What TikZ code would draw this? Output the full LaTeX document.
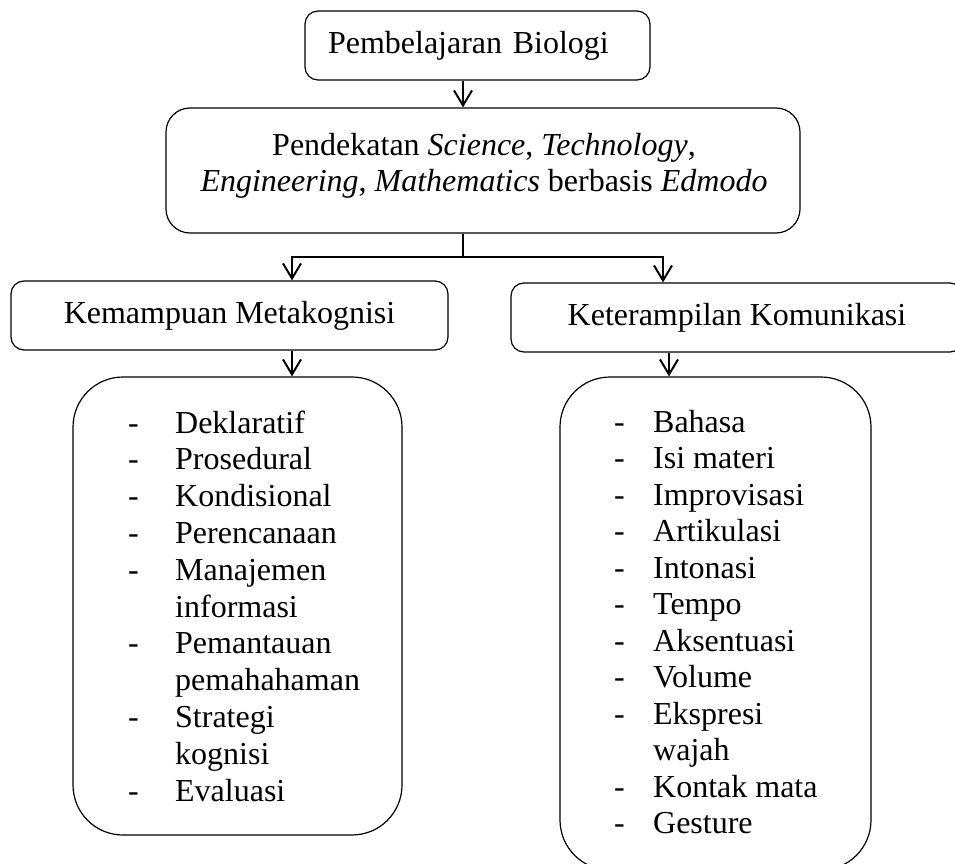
\documentclass[tikz,border=0pt]{standalone}
\usepackage{fontspec}
\setmainfont{Liberation Serif}
\usetikzlibrary{arrows.meta}
\begin{document}
\begin{tikzpicture}[x=1pt,y=-1pt,
  box/.style={draw=black, line width=1.2pt, rectangle, inner sep=0pt, align=center},
  conn/.style={draw=black, line width=1.8pt},
  arr/.style={conn, -{Straight Barb[length=15pt,width=18pt,line width=2pt]}},
  every node/.style={font=\fontsize{32}{36}\selectfont}]
\useasboundingbox (0,0) rectangle (955,864);
\clip (0,0) rectangle (955,864);

% boxes
\node[box, rounded corners=13pt, minimum width=345pt, minimum height=69pt,
      text width=299pt, inner xsep=23pt, align=left] (b1) at (477.5,45.5) {Pembelajaran Biologi};
\node[box, rounded corners=24pt, minimum width=634pt, minimum height=125pt] (b2) at (483,170.5) {};
\node[align=center, inner sep=0pt] (b2t) at (484,166)
  {Pendekatan \textit{Science}, \textit{Technology},\\
   \textit{Engineering}, \textit{Mathematics} berbasis \textit{Edmodo}};
\node[box, rounded corners=13pt, minimum width=437pt, minimum height=69pt] (k1) at (229.5,315.5) {Kemampuan Metakognisi};
\node[box, rounded corners=13pt, minimum width=452pt, minimum height=69pt] (k2) at (737,317.5) {Keterampilan Komunikasi};
\node[box, rounded corners=50pt, minimum width=329pt, minimum height=458pt] (l1) at (237.5,606) {};
\node[box, rounded corners=50pt, minimum width=311pt, minimum height=493pt] (l2) at (715.5,623.5) {};

% list texts
\node[anchor=base west, inner sep=0pt, font=\fontsize{32}{36.8}\selectfont] (l1t) at (128,433)
  {\begin{tabular}[t]{@{}l@{}}
   \makebox[47pt][l]{-}Deklaratif\\
   \makebox[47pt][l]{-}Prosedural\\
   \makebox[47pt][l]{-}Kondisional\\
   \makebox[47pt][l]{-}Perencanaan\\
   \makebox[47pt][l]{-}Manajemen\\
   \hspace*{47pt}informasi\\
   \makebox[47pt][l]{-}Pemantauan\\
   \hspace*{47pt}pemahahaman\\
   \makebox[47pt][l]{-}Strategi\\
   \hspace*{47pt}kognisi\\
   \makebox[47pt][l]{-}Evaluasi
   \end{tabular}};
\node[anchor=base west, inner sep=0pt, font=\fontsize{32}{36.5}\selectfont] (l2t) at (614,432)
  {\begin{tabular}[t]{@{}l@{}}
   \makebox[39pt][l]{-}Bahasa\\
   \makebox[39pt][l]{-}Isi materi\\
   \makebox[39pt][l]{-}Improvisasi\\
   \makebox[39pt][l]{-}Artikulasi\\
   \makebox[39pt][l]{-}Intonasi\\
   \makebox[39pt][l]{-}Tempo\\
   \makebox[39pt][l]{-}Aksentuasi\\
   \makebox[39pt][l]{-}Volume\\
   \makebox[39pt][l]{-}Ekspresi\\
   \hspace*{39pt}wajah\\
   \makebox[39pt][l]{-}Kontak mata\\
   \makebox[39pt][l]{-}Gesture
   \end{tabular}};

% connectors
\coordinate (xa) at (463,0);
\coordinate (xl) at (292,0);
\coordinate (xr) at (663,0);
\coordinate (xr2) at (669,0);
\coordinate (j) at (463,257);
\draw[arr] (b1.south -| xa) -- (b2.north -| xa);
\draw[conn] (b2.south -| xa) -- (j);
\draw[arr] (j) -| (k1.north -| xl);
\draw[arr] (j) -| (k2.north -| xr);
\draw[arr] (k1.south -| xl) -- (l1.north -| xl);
\draw[arr] (k2.south -| xr2) -- (l2.north -| xr2);
\end{tikzpicture}
\end{document}
